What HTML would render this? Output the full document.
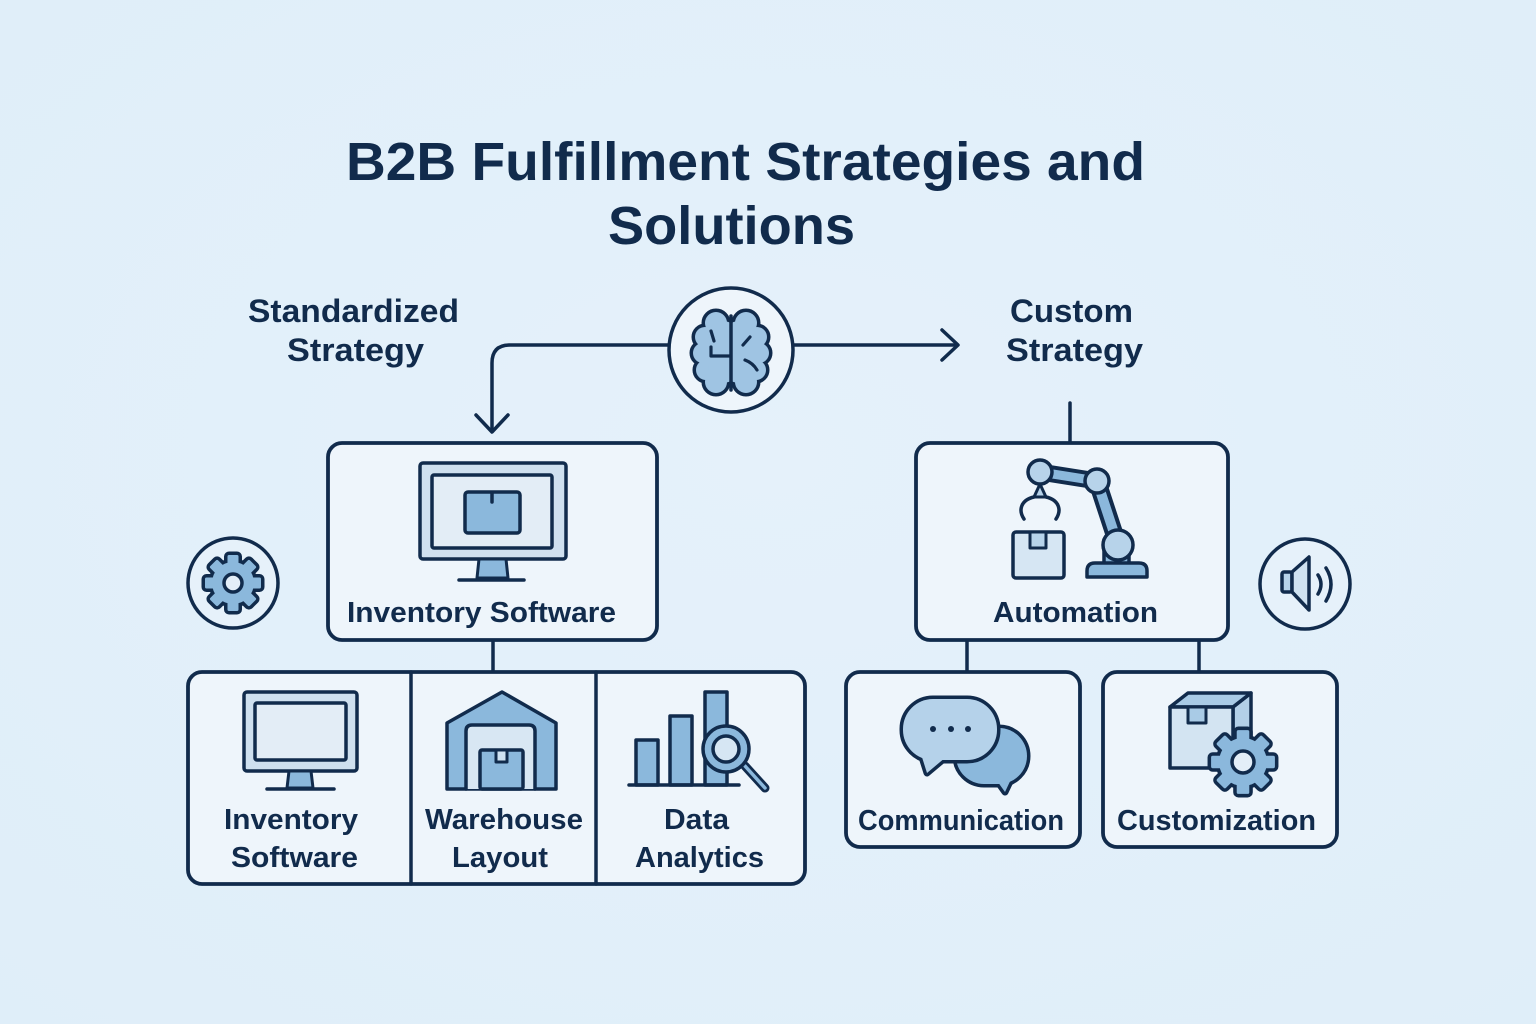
<!DOCTYPE html>
<html><head><meta charset="utf-8"><style>
html,body{margin:0;padding:0;width:1536px;height:1024px;overflow:hidden;background:#e2f0f9}
svg{display:block}
text{font-family:"Liberation Sans",Arial,sans-serif;font-weight:bold;fill:#112b4c}
</style></head><body>
<svg width="1536" height="1024" viewBox="0 0 1536 1024" xmlns="http://www.w3.org/2000/svg">
<defs>
<radialGradient id="bg" cx="50%" cy="45%" r="75%">
<stop offset="0" stop-color="#e5f1fa"/><stop offset="1" stop-color="#dfeef9"/>
</radialGradient>
<g id="gear">
<circle r="21"/>
<rect x="-5.5" y="-28" width="11" height="56" rx="1.5"/>
<rect x="-5.5" y="-28" width="11" height="56" rx="1.5" transform="rotate(45)"/>
<rect x="-5.5" y="-28" width="11" height="56" rx="1.5" transform="rotate(90)"/>
<rect x="-5.5" y="-28" width="11" height="56" rx="1.5" transform="rotate(135)"/>
</g>
<g id="brain">
<circle cx="716" cy="323" r="11"/><circle cx="705" cy="337" r="10"/><circle cx="703" cy="353" r="10"/><circle cx="706" cy="370" r="10"/><circle cx="716" cy="382" r="11"/><circle cx="720" cy="352" r="19"/>
<circle cx="723" cy="336" r="15"/><circle cx="723" cy="368" r="15"/>
<circle cx="746" cy="323" r="11"/><circle cx="757" cy="337" r="10"/><circle cx="759" cy="353" r="10"/><circle cx="756" cy="370" r="10"/><circle cx="746" cy="382" r="11"/><circle cx="742" cy="352" r="19"/>
<circle cx="739" cy="336" r="15"/><circle cx="739" cy="368" r="15"/>
</g>
</defs>
<rect width="1536" height="1024" fill="url(#bg)"/>

<g stroke="#112b4c" stroke-linecap="round" stroke-linejoin="round" fill="none">

<!-- Title -->
<text x="346" y="180" font-size="54" textLength="799" lengthAdjust="spacingAndGlyphs" stroke="none">B2B Fulfillment Strategies and</text>
<text x="608" y="244" font-size="54" textLength="247" lengthAdjust="spacingAndGlyphs" stroke="none">Solutions</text>

<text x="248" y="322" font-size="32" textLength="211" lengthAdjust="spacingAndGlyphs" stroke="none">Standardized</text>
<text x="287" y="361" font-size="32" textLength="137" lengthAdjust="spacingAndGlyphs" stroke="none">Strategy</text>
<text x="1010" y="322" font-size="32" textLength="123" lengthAdjust="spacingAndGlyphs" stroke="none">Custom</text>
<text x="1006" y="361" font-size="32" textLength="137" lengthAdjust="spacingAndGlyphs" stroke="none">Strategy</text>

<!-- connectors -->
<path d="M668,345 L510,345 Q492,345 492,363 L492,431" stroke-width="3.5"/>
<path d="M476,415 L492,432 L508,415" stroke-width="3.5"/>
<path d="M793,345 L957,345" stroke-width="3.5"/>
<path d="M942,330 L958,345 L942,360" stroke-width="3.5"/>
<path d="M1070,403 L1070,443" stroke-width="3.5"/>
<path d="M493,640 L493,672" stroke-width="3.5"/>
<path d="M967,640 L967,672" stroke-width="3.5"/>
<path d="M1199,640 L1199,672" stroke-width="3.5"/>

<!-- brain circle -->
<circle cx="731" cy="350" r="62" fill="#eef5fb" stroke-width="3.5"/>
<use href="#brain" fill="#112b4c" stroke="#112b4c" stroke-width="7"/>
<use href="#brain" fill="#9fc4e3" stroke="none"/>
<path d="M731,316 L731,390" stroke-width="3.5"/>
<path d="M711,331 L714,341" stroke-width="3.2"/>
<path d="M711,347 L711,356 L730,356" stroke-width="3.2"/>
<path d="M743,345 L750,337" stroke-width="3.2"/>
<path d="M745,360 Q753,363 757,370" stroke-width="3.2"/>

<!-- gear circle left -->
<circle cx="233" cy="583" r="45" fill="#e6f1fa" stroke-width="3.5"/>
<use href="#gear" x="233" y="583" fill="#112b4c" stroke="#112b4c" stroke-width="7"/>
<use href="#gear" x="233" y="583" fill="#8bb8dc" stroke="none"/>
<circle cx="233" cy="583" r="9" fill="#e3eef8" stroke-width="3.5"/>

<!-- speaker circle right -->
<circle cx="1305" cy="584" r="45" fill="#e6f1fa" stroke-width="3.5"/>
<rect x="1282" y="572" width="10" height="20" rx="2" fill="#b7d3ea" stroke-width="3.5"/>
<path d="M1292,572 L1309,557 L1309,610 L1292,592 Z" fill="#cfe2f1" stroke-width="3.5"/>
<path d="M1318,575 Q1324,584 1318,594" stroke-width="3.5"/>
<path d="M1326,568 Q1336,584 1326,601" stroke-width="3.5"/>

<!-- Top left box -->
<rect x="328" y="443" width="329" height="197" rx="14" fill="#eef5fb" stroke-width="3.8"/>
<rect x="420" y="463" width="146" height="96" rx="3" fill="#cfe0ef" stroke-width="3.5"/>
<rect x="432" y="475" width="120" height="73" rx="2" fill="#e3edf6" stroke-width="3.5"/>
<rect x="465" y="492" width="55" height="41" rx="3" fill="#8bb8dc" stroke-width="3.5"/>
<path d="M492,493 L492,502" stroke-width="3.5"/>
<path d="M479,559 L506,559 L508,578 L477,578 Z" fill="#8bb8dc" stroke-width="3"/>
<path d="M459,580 L524,580" stroke-width="3.5"/>
<text x="347" y="622" font-size="29" textLength="269" lengthAdjust="spacingAndGlyphs" stroke="none">Inventory Software</text>

<!-- Automation box -->
<rect x="916" y="443" width="312" height="197" rx="14" fill="#eef5fb" stroke-width="3.8"/>
<!-- robot -->
<rect x="1013" y="532" width="51" height="46" rx="3" fill="#d6e6f3" stroke-width="3.5"/>
<rect x="1030" y="532" width="16" height="16" fill="#b7d3ea" stroke-width="3"/>
<path d="M1040,472 L1097,481" stroke-width="17"/>
<path d="M1040,472 L1097,481" stroke="#8bb8dc" stroke-width="9"/>
<path d="M1097,481 L1117,542" stroke-width="18"/>
<path d="M1097,481 L1117,542" stroke="#8bb8dc" stroke-width="10"/>
<rect x="1104" y="540" width="25" height="26" fill="#8bb8dc" stroke-width="3.5"/>
<path d="M1087,577 L1087,571 Q1087,563 1095,563 L1139,563 Q1147,563 1147,571 L1147,577 Z" fill="#8bb8dc" stroke-width="3.5"/>
<circle cx="1118" cy="545" r="15" fill="#b7d3ea" stroke-width="3.5"/>
<circle cx="1097" cy="481" r="12" fill="#b7d3ea" stroke-width="3.5"/>
<path d="M1040,484 L1034,497 L1046,497 Z" fill="#b7d3ea" stroke-width="3"/>
<circle cx="1040" cy="472" r="12" fill="#b7d3ea" stroke-width="3.5"/>
<path d="M1034,497 C1021,500 1018,510 1024,519" stroke-width="3.5"/>
<path d="M1046,497 C1059,500 1062,510 1056,519" stroke-width="3.5"/>
<text x="993" y="622" font-size="29" textLength="165" lengthAdjust="spacingAndGlyphs" stroke="none">Automation</text>

<!-- Bottom left group -->
<rect x="188" y="672" width="617" height="212" rx="14" fill="#eef5fb" stroke-width="3.8"/>
<path d="M411,672 L411,884" stroke-width="3.5"/>
<path d="M596,672 L596,884" stroke-width="3.5"/>
<!-- monitor -->
<rect x="244" y="692" width="113" height="79" rx="3" fill="#cfe0ef" stroke-width="3.5"/>
<rect x="255" y="703" width="91" height="57" rx="2" fill="#e3edf6" stroke-width="3.5"/>
<path d="M289,771 L311,771 L313,788 L287,788 Z" fill="#8bb8dc" stroke-width="3"/>
<path d="M267,789 L334,789" stroke-width="3.5"/>
<!-- warehouse -->
<path d="M447,789 L447,723 L502,692 L556,723 L556,789 Z" fill="#8bb8dc" stroke-width="3.5"/>
<path d="M466,789 L466,731 Q466,725 472,725 L529,725 Q535,725 535,731 L535,789" fill="#d8e7f3" stroke-width="3.5"/>
<rect x="480" y="750" width="43" height="39" rx="2" fill="#8bb8dc" stroke-width="3.5"/>
<rect x="496" y="750" width="11" height="12" fill="#cfe2f1" stroke-width="3"/>
<!-- analytics -->
<rect x="636" y="740" width="22" height="45" fill="#8bb8dc" stroke-width="3.5"/>
<rect x="670" y="716" width="22" height="69" fill="#8bb8dc" stroke-width="3.5"/>
<rect x="705" y="692" width="22" height="93" fill="#8bb8dc" stroke-width="3.5"/>
<path d="M629,785 L739,785" stroke-width="3.5"/>
<path d="M745,766 L765,788" stroke-width="9"/>
<path d="M745,766 L765,788" stroke="#8bb8dc" stroke-width="3.5"/>
<circle cx="726" cy="749" r="23" fill="#8bb8dc" stroke-width="3.5"/>
<circle cx="726" cy="749" r="13" fill="#d6e6f3" stroke-width="3.5"/>
<text x="224" y="829" font-size="29" textLength="134" lengthAdjust="spacingAndGlyphs" stroke="none">Inventory</text>
<text x="231" y="867" font-size="29" textLength="127" lengthAdjust="spacingAndGlyphs" stroke="none">Software</text>
<text x="425" y="829" font-size="29" textLength="158" lengthAdjust="spacingAndGlyphs" stroke="none">Warehouse</text>
<text x="452" y="867" font-size="29" textLength="96" lengthAdjust="spacingAndGlyphs" stroke="none">Layout</text>
<text x="664" y="829" font-size="29" textLength="65" lengthAdjust="spacingAndGlyphs" stroke="none">Data</text>
<text x="635" y="867" font-size="29" textLength="129" lengthAdjust="spacingAndGlyphs" stroke="none">Analytics</text>

<!-- Communication box -->
<rect x="846" y="672" width="234" height="175" rx="14" fill="#eef5fb" stroke-width="3.8"/>
<g stroke-width="7" fill="#112b4c">
<rect x="956" y="728" width="71" height="56" rx="28"/>
<path d="M995,778 L1005,792 L1013,775 Z"/>
</g>
<g stroke="none" fill="#8bb8dc">
<rect x="956" y="728" width="71" height="56" rx="28"/>
<path d="M995,778 L1005,792 L1013,775 Z"/>
</g>
<g stroke-width="7" fill="#112b4c">
<rect x="903" y="699" width="94" height="61" rx="30"/>
<path d="M921,754 L927,773 L946,757 Z"/>
</g>
<g stroke="none" fill="#b5d2ea">
<rect x="903" y="699" width="94" height="61" rx="30"/>
<path d="M921,754 L927,773 L946,757 Z"/>
</g>
<circle cx="933" cy="729" r="3" fill="#112b4c" stroke="none"/>
<circle cx="951" cy="729" r="3" fill="#112b4c" stroke="none"/>
<circle cx="968" cy="729" r="3" fill="#112b4c" stroke="none"/>
<text x="858" y="830" font-size="29" textLength="206" lengthAdjust="spacingAndGlyphs" stroke="none">Communication</text>

<!-- Customization box -->
<rect x="1103" y="672" width="234" height="175" rx="14" fill="#eef5fb" stroke-width="3.8"/>
<path d="M1233,707 L1251,693 L1251,750 L1233,768 Z" fill="#b3d0e8" stroke-width="3.5"/>
<path d="M1170,707 L1188,693 L1251,693 L1233,707 Z" fill="#a9cbe6" stroke-width="3.5"/>
<rect x="1170" y="707" width="63" height="61" fill="#d3e4f2" stroke-width="3.5"/>
<rect x="1188" y="707" width="18" height="16" fill="#a9cbe6" stroke-width="3"/>
<use href="#gear" transform="translate(1243,762) scale(1.14)" fill="#112b4c" stroke="#112b4c" stroke-width="6.2"/>
<use href="#gear" transform="translate(1243,762) scale(1.14)" fill="#8bb8dc" stroke="none"/>
<circle cx="1243" cy="762" r="11" fill="#e3eef8" stroke-width="3.5"/>
<text x="1117" y="830" font-size="29" textLength="199" lengthAdjust="spacingAndGlyphs" stroke="none">Customization</text>

</g>
</svg>
</body></html>
